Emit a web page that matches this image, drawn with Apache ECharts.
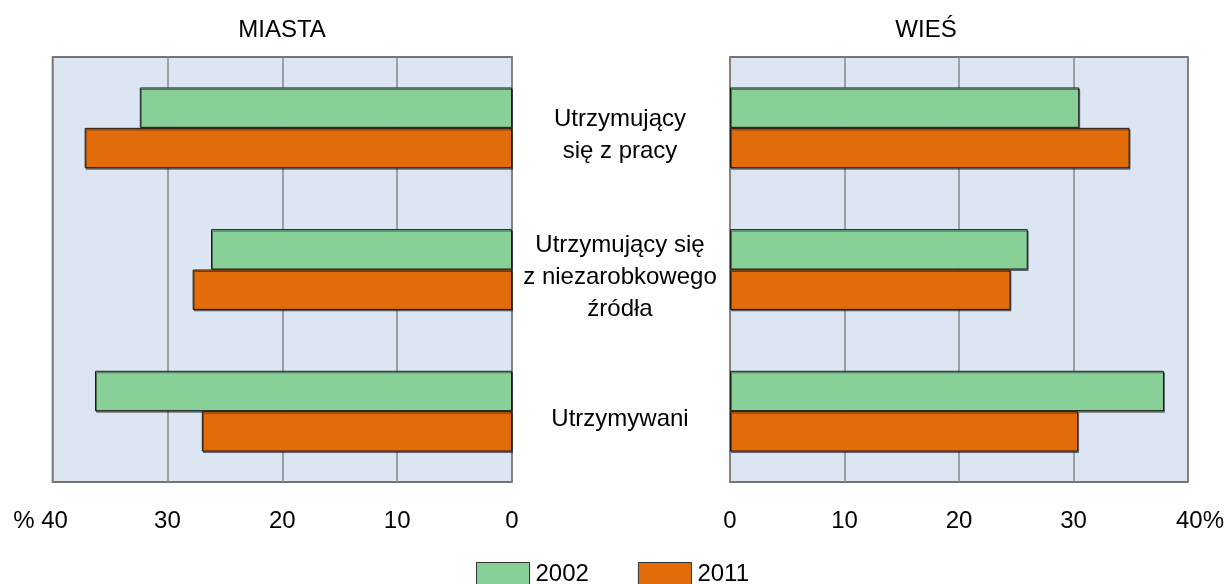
<!DOCTYPE html>
<html>
<head>
<meta charset="utf-8">
<script src="https://cdn.jsdelivr.net/npm/echarts@6/dist/echarts.min.js"></script>
<style>
  html, body { margin: 0; padding: 0; background: #fff; }
  #chart { width: 1228px; height: 584px; }
</style>
</head>
<body>
<div id="chart"></div>
<script>
// Categories (top to bottom)
const categories = ['Utrzymujący\nsię z pracy', 'Utrzymujący się\nz niezarobkowego\nźródła', 'Utrzymywani'];
const years = ['2002', '2011'];

// Values in %
const miasta2002 = [32.4, 26.2, 36.3];
const miasta2011 = [37.2, 27.8, 27.0];
const wies2002 = [30.5, 26.0, 37.9];
const wies2011 = [34.9, 24.5, 30.4];

const panelTitles = ['MIASTA', 'WIEŚ'];
const axisMax = 40;
const axisStep = 10;

const GREEN = '#88cf98';
const ORANGE = '#e36c0a';
const FONT = 'Liberation Sans, Arial, sans-serif';

const chart = echarts.init(document.getElementById('chart'), null, { renderer: 'canvas' });

const gridBase = {
    top: 57,
    bottom: 102,
    show: true,
    backgroundColor: '#dce6f2',
    borderColor: '#4a4a4a',
    borderWidth: 1.5
};

function valueAxis(gridIndex, inverse, formatter) {
    return {
        type: 'value',
        gridIndex,
        inverse,
        min: 0,
        max: axisMax,
        interval: axisStep,
        axisLine: { show: false },
        axisTick: { show: false },
        splitLine: { show: true, lineStyle: { color: '#888', width: 1.5 } },
        axisLabel: {
            color: '#000',
            fontFamily: FONT,
            fontSize: 24,
            margin: 27,
            formatter,
            rich: {
                pad: { width: 24, fontSize: 24, fontFamily: FONT },
                pct: { fontSize: 24, fontFamily: FONT, color: '#000' }
            }
        }
    };
}

const barStyle = (color) => ({
    color,
    borderColor: '#1a1a1a',
    borderWidth: 1,
    shadowColor: 'rgba(0,0,0,0.45)',
    shadowOffsetX: 1,
    shadowOffsetY: 1.5,
    shadowBlur: 0
});

function barSeries(name, data, idx, color) {
    return {
        name,
        type: 'bar',
        xAxisIndex: idx,
        yAxisIndex: idx,
        data,
        barGap: '0%',
        barCategoryGap: '43%',
        itemStyle: barStyle(color),
        emphasis: { disabled: true },
        animation: false
    };
}

const titleStyle = { fontFamily: FONT, fontSize: 24, fontWeight: 'normal', color: '#000' };

const option = {
    backgroundColor: '#fff',
    animation: false,
    title: [
        { text: panelTitles[0], left: 277, top: 13, textAlign: 'center', textStyle: titleStyle },
        { text: panelTitles[1], left: 921, top: 13, textAlign: 'center', textStyle: titleStyle }
    ],
    legend: {
        data: years,
        left: 476,
        top: 562,
        padding: 0,
        itemWidth: 53,
        itemHeight: 24,
        itemGap: 49,
        icon: 'rect',
        textStyle: { fontFamily: FONT, fontSize: 24, color: '#000', padding: [2, 0, 0, 1] },
        itemStyle: { borderColor: '#333', borderWidth: 1 }
    },
    grid: [
        Object.assign({ left: 52.5, right: 716 }, gridBase),
        Object.assign({ left: 730, right: 40 }, gridBase),
        // label-only grid, nudged down a little like the source
        { left: 730, right: 40, top: 65, bottom: 94, show: false }
    ],
    xAxis: [
        valueAxis(0, true, (v) => v === axisMax ? '{pct|% }' + v + '{pad|}' : String(v)),
        valueAxis(1, false, (v) => v === axisMax ? '{pad|}' + v + '{pct|%}' : String(v)),
        { type: 'value', gridIndex: 2, show: false, min: 0, max: axisMax }
    ],
    yAxis: [
        {
            type: 'category',
            gridIndex: 0,
            data: categories,
            inverse: true,
            position: 'right',
            axisLine: { show: false },
            axisTick: { show: false },
            axisLabel: { show: false }
        },
        {
            type: 'category',
            gridIndex: 1,
            data: categories,
            inverse: true,
            position: 'left',
            axisLine: { show: false },
            axisTick: { show: false },
            axisLabel: { show: false }
        },
        {
            type: 'category',
            gridIndex: 2,
            data: categories,
            inverse: true,
            position: 'left',
            axisLine: { show: false },
            axisTick: { show: false },
            splitLine: { show: false },
            axisLabel: {
                color: '#000',
                fontFamily: FONT,
                fontSize: 24,
                lineHeight: 32,
                align: 'center',
                margin: 110
            }
        }
    ],
    series: [
        barSeries(years[0], miasta2002, 0, GREEN),
        barSeries(years[1], miasta2011, 0, ORANGE),
        barSeries(years[0], wies2002, 1, GREEN),
        barSeries(years[1], wies2011, 1, ORANGE)
    ]
};

chart.setOption(option);
window.addEventListener('resize', () => chart.resize());
</script>
</body>
</html>
